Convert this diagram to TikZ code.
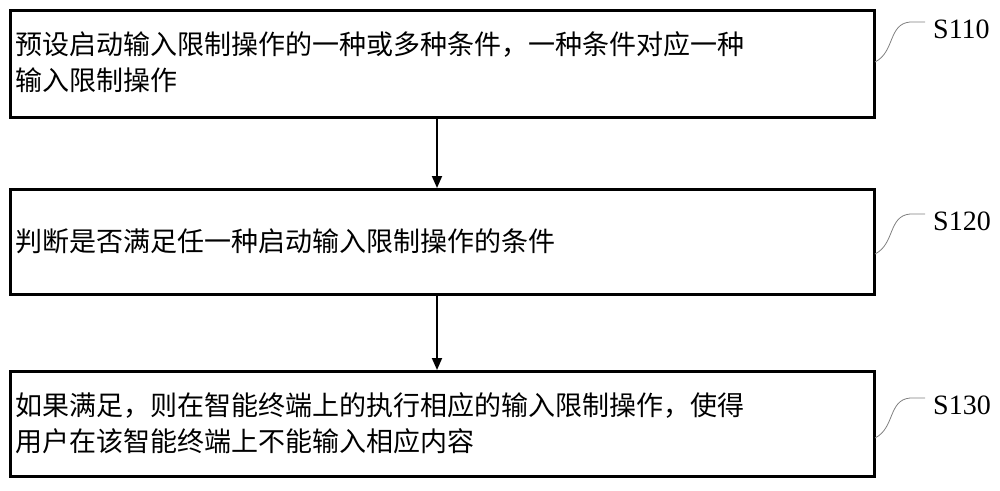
\documentclass[tikz,border=0pt]{standalone}
\usepackage{fontspec}
\newfontfamily\cjk{Noto Sans CJK SC}
\setmainfont{Liberation Serif}
\usetikzlibrary{arrows.meta}
\begin{document}
\begin{tikzpicture}[x=1pt,y=-1pt,
  stepbox/.style={draw,line width=2.6pt,minimum width=864pt,anchor=north west,inner sep=0pt},
  txt/.style={anchor=west,font=\cjk\fontsize{27}{36}\selectfont,align=left,inner sep=0pt},
  lab/.style={anchor=west,font=\fontsize{28}{30}\selectfont,inner sep=0pt},
  sq/.style={draw=gray,line width=0.8pt},
  arr/.style={draw,line width=1.8pt,-{Triangle[length=12pt,width=10pt]}}]
\useasboundingbox (0,0) rectangle (1000,490);
\node[stepbox,minimum height=107pt] (b1) at (9,9) {};
\node[stepbox,minimum height=105pt] (b2) at (9,188) {};
\node[stepbox,minimum height=105pt] (b3) at (9,370) {};
\node[txt] at (15,62) {预设启动输入限制操作的一种或多种条件，一种条件对应一种\\输入限制操作};
\node[txt] at (15,241) {判断是否满足任一种启动输入限制操作的条件};
\node[txt] at (15,423) {如果满足，则在智能终端上的执行相应的输入限制操作，使得\\用户在该智能终端上不能输入相应内容};
\draw[arr] (b1.south -| 437,0) -- (b2.north -| 437,0);
\draw[arr] (b2.south -| 437,0) -- (b3.north -| 437,0);
\foreach \b/\y/\t in {b1/22/S110,b2/214/S120,b3/398/S130}{
  \coordinate (c\b) at (875,\y+40);
  \draw[sq] (c\b) .. controls (895,\y+30) and (888,\y+2) .. (910,\y) -- (925,\y);
  \node[lab] at (933,\y+7) {\t};
}
\end{tikzpicture}
\end{document}
